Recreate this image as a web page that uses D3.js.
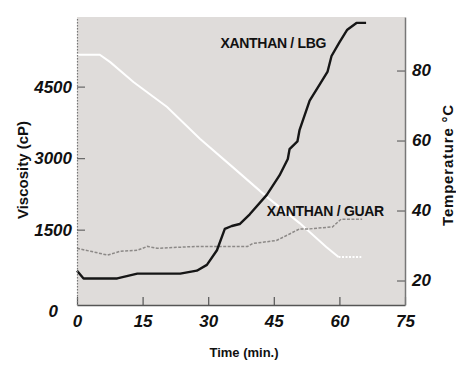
<!DOCTYPE html>
<html>
<head>
<meta charset="utf-8">
<script src="https://cdn.jsdelivr.net/npm/d3@7"></script>
<style>
  body { margin: 0; background: #fff; }
  svg { display: block; }
  text { font-family: "Liberation Sans", Arial, sans-serif; fill: #111; }
</style>
</head>
<body>
<div id="chart"></div>
<script>
// time (min.) and viscosity (cP)
const lbgTime = [0, 1.5, 9.2, 13.8, 23.6, 27.4, 29.7, 32.0, 33.8, 35.4, 37.2, 39.5, 43.4, 46.3, 48.2, 48.6, 50.4, 50.9, 53.2, 55.4, 57.3, 58.2, 60.0, 61.8, 63.9, 66.1];
const lbgVisc = [640, 477, 477, 579, 579, 640, 762, 1068, 1516, 1577, 1618, 1822, 2229, 2637, 2983, 3187, 3350, 3594, 4205, 4531, 4816, 5142, 5428, 5693, 5836, 5836];

const guarTime = [0, 3.1, 7.0, 9.9, 13.8, 16.1, 18.3, 27.4, 39.0, 40.2, 45.6, 50.9, 53.1, 58.4, 60.4, 65.2];
const guarVisc = [1109, 1047, 966, 1047, 1068, 1149, 1109, 1149, 1149, 1210, 1272, 1516, 1516, 1557, 1720, 1720];

// temperature (°C), last segment is the held (dotted) part
const tempTime = [0, 5.2, 7.6, 12.9, 20.6, 28.1, 35.6, 43.4, 50.9, 57.0, 59.8];
const tempVal = [84.5, 84.5, 82.4, 76.7, 69.6, 60.5, 52.4, 43.9, 36.4, 29.6, 26.7];
const tempHoldTime = [59.8, 65];
const tempHoldVal = [26.7, 26.7];

const xTicks = [0, 15, 30, 45, 60, 75];
const viscTicks = [0, 1500, 3000, 4500];
const tempTicks = [20, 40, 60, 80];

const labels = [
  { text: "XANTHAN / LBG", t: 32.8, v: 5305 },
  { text: "XANTHAN / GUAR", t: 43.4, v: 1780 }
];

const width = 456, height = 366;
const margin = {top: 17, right: 51, bottom: 61, left: 77};
const w = width - margin.left - margin.right;
const h = height - margin.top - margin.bottom;

const svg = d3.select("#chart").append("svg")
  .attr("width", width)
  .attr("height", height);

const g = svg.append("g")
  .attr("transform", `translate(${margin.left},${margin.top})`);

const x = d3.scaleLinear().domain([0, 75]).range([0, w]);
const yL = d3.scaleLinear().domain([-80, 5960]).range([h, 0]);
const yR = d3.scaleLinear().domain([13, 95.3]).range([h, 0]);

g.append("rect")
  .attr("width", w)
  .attr("height", h)
  .attr("fill", "#dfdcda");

const zip = (a, b) => a.map((d, i) => [d, b[i]]);

const lineL = d3.line().x(d => x(d[0])).y(d => yL(d[1]));
const lineR = d3.line().x(d => x(d[0])).y(d => yR(d[1]));

// temperature
g.append("path")
  .datum(zip(tempTime, tempVal))
  .attr("fill", "none")
  .attr("stroke", "#fff")
  .attr("stroke-width", 2)
  .attr("d", lineR);
g.append("path")
  .datum(zip(tempHoldTime, tempHoldVal))
  .attr("fill", "none")
  .attr("stroke", "#fff")
  .attr("stroke-width", 2)
  .attr("stroke-dasharray", "2,1.5")
  .attr("d", lineR);

// xanthan / guar
g.append("path")
  .datum(zip(guarTime, guarVisc))
  .attr("fill", "none")
  .attr("stroke", "#8c8987")
  .attr("stroke-width", 1.5)
  .attr("stroke-dasharray", "3,1.5")
  .attr("d", lineL);

// xanthan / lbg
g.append("path")
  .datum(zip(lbgTime, lbgVisc))
  .attr("fill", "none")
  .attr("stroke", "#161616")
  .attr("stroke-width", 2.4)
  .attr("stroke-linejoin", "round")
  .attr("d", lineL);

g.selectAll(".lbl")
  .data(labels)
  .enter().append("text")
  .attr("class", "lbl")
  .attr("x", d => x(d.t))
  .attr("y", d => yL(d.v))
  .attr("font-size", 14)
  .attr("font-weight", "bold")
  .attr("letter-spacing", -0.3)
  .text(d => d.text);

// axes
const tickFont = sel => sel.selectAll("text")
  .attr("font-size", 17)
  .attr("font-weight", "bold")
  .attr("font-style", "italic")
  .attr("fill", "#111");

const xAxis = g.append("g")
  .attr("transform", `translate(0,${h})`)
  .call(d3.axisBottom(x).tickValues(xTicks).tickSizeInner(-8).tickSizeOuter(0).tickPadding(10))
  .call(tickFont);
xAxis.select(".domain").attr("stroke", "#555").attr("stroke-width", 1.5);
xAxis.selectAll(".tick line").attr("stroke", "#555").attr("stroke-width", 1.2);

const leftAxis = g.append("g")
  .call(d3.axisLeft(yL).tickValues(viscTicks).tickFormat(d3.format("d"))
    .tickSizeInner(-8).tickSizeOuter(0).tickPadding(5))
  .call(tickFont);
leftAxis.select(".domain")
  .attr("stroke", "#777")
  .attr("stroke-width", 1.2)
  .attr("stroke-dasharray", "1.5,1.5");
leftAxis.selectAll(".tick line").attr("stroke", "#666").attr("stroke-width", 1.2);
leftAxis.selectAll(".tick").filter(d => d === 0)
  .call(t => t.select("line").remove())
  .select("text")
  .attr("x", -19)
  .attr("dy", "0.9em");

const rightAxis = g.append("g")
  .attr("transform", `translate(${w},0)`)
  .call(d3.axisRight(yR).tickValues(tempTicks).tickSizeInner(-8).tickSizeOuter(0).tickPadding(7))
  .call(tickFont);
rightAxis.select(".domain").attr("stroke", "#777").attr("stroke-width", 1.5);
rightAxis.selectAll(".tick line").attr("stroke", "#666").attr("stroke-width", 1.2);

// axis titles
svg.append("text")
  .attr("x", margin.left + w / 2 + 3)
  .attr("y", 357)
  .attr("text-anchor", "middle")
  .attr("font-size", 13)
  .attr("font-weight", "bold")
  .text("Time (min.)");

svg.append("text")
  .attr("transform", "translate(28,170) rotate(-90)")
  .attr("text-anchor", "middle")
  .attr("font-size", 15)
  .attr("font-weight", "bold")
  .text("Viscosity (cP)");

svg.append("text")
  .attr("transform", "translate(453,165) rotate(-90)")
  .attr("text-anchor", "middle")
  .attr("font-size", 15)
  .attr("font-weight", "bold")
  .attr("letter-spacing", 0.8)
  .text("Temperature °C");
</script>
</body>
</html>
